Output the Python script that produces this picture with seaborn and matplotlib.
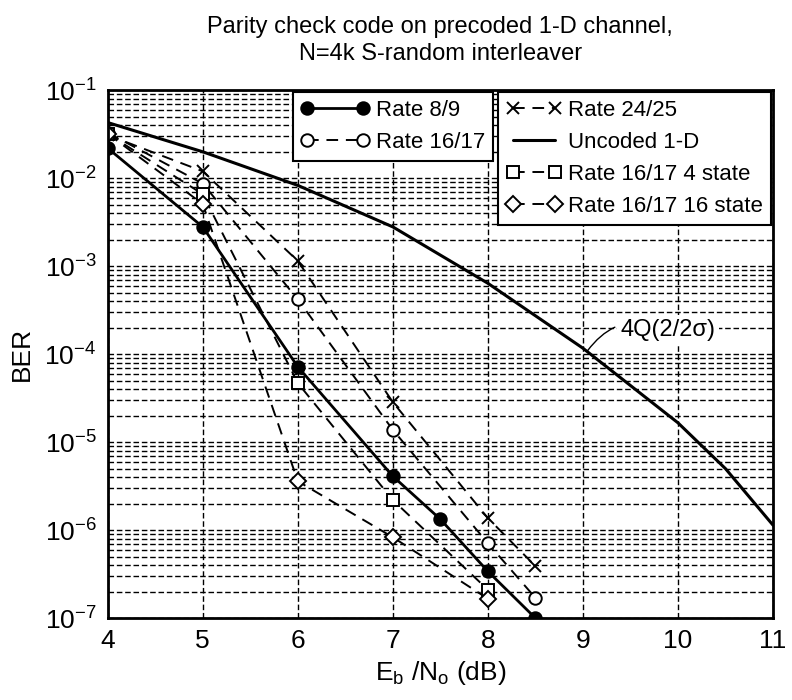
import matplotlib
matplotlib.use('Agg')
import matplotlib.pyplot as plt
from matplotlib.ticker import LogLocator, NullFormatter, FixedLocator
import seaborn as sns

# Eb/No (dB) and BER
ebno_r89 = [4, 5, 6, 7, 7.5, 8, 8.5]
ber_r89 = [2.2e-2, 2.8e-3, 7.2e-5, 4.1e-6, 1.33e-6, 3.4e-7, 1.0e-7]

ebno_r1617 = [4, 5, 6, 7, 8, 8.5]
ber_r1617 = [3.3e-2, 8.7e-3, 4.2e-4, 1.38e-5, 7.1e-7, 1.7e-7]

ebno_r2425 = [4, 5, 6, 7, 8, 8.5]
ber_r2425 = [3.1e-2, 1.2e-2, 1.15e-3, 2.85e-5, 1.37e-6, 3.9e-7]

ebno_uncoded = [4, 5, 6, 7, 8, 9, 10, 10.5, 11]
ber_uncoded = [4.3e-2, 2.0e-2, 8.3e-3, 2.8e-3, 6.4e-4, 1.17e-4, 1.66e-5, 5.0e-6, 1.14e-6]

ebno_4state = [4, 5, 6, 7, 8]
ber_4state = [3.2e-2, 6.6e-3, 4.7e-5, 2.2e-6, 2.1e-7]

ebno_16state = [4, 5, 6, 7, 8]
ber_16state = [3.2e-2, 5.1e-3, 3.6e-6, 8.3e-7, 1.66e-7]

x_ticks = [4, 5, 6, 7, 8, 9, 10, 11]
y_ticks = [1e-7, 1e-6, 1e-5, 1e-4, 1e-3, 1e-2, 1e-1]

sns.set_style('white')
plt.rcParams['font.family'] = ['Liberation Sans', 'DejaVu Sans']
plt.rcParams['text.color'] = 'black'
plt.rcParams['axes.labelcolor'] = 'black'

fig = plt.figure(figsize=(7.92, 7.0), dpi=100)
ax = fig.add_axes([0.136, 0.117, 0.840, 0.754])

dash = (0, (6, 4))
mk = dict(markersize=9, markeredgecolor='black', markeredgewidth=1.4)

sns.lineplot(x=ebno_r89, y=ber_r89, ax=ax, estimator=None, color='black', lw=2.0,
             marker='o', markerfacecolor='black', label='Rate 8/9', **mk)
sns.lineplot(x=ebno_r1617, y=ber_r1617, ax=ax, estimator=None, color='black', lw=1.4,
             linestyle=dash, marker='o', markerfacecolor='white', label='Rate 16/17', **mk)
sns.lineplot(x=ebno_r2425, y=ber_r2425, ax=ax, estimator=None, color='black', lw=1.4,
             linestyle=dash, marker='x', label='Rate 24/25', **mk)
sns.lineplot(x=ebno_uncoded, y=ber_uncoded, ax=ax, estimator=None, color='black', lw=2.2,
             label='Uncoded 1-D')
sns.lineplot(x=ebno_4state, y=ber_4state, ax=ax, estimator=None, color='black', lw=1.4,
             linestyle=dash, marker='s', markerfacecolor='white', label='Rate 16/17 4 state',
             markersize=8, markeredgecolor='black', markeredgewidth=1.4)
sns.lineplot(x=ebno_16state, y=ber_16state, ax=ax, estimator=None, color='black', lw=1.4,
             linestyle=dash, marker='D', markerfacecolor='white', label='Rate 16/17 16 state',
             markersize=8, markeredgecolor='black', markeredgewidth=1.4)

ax.set_yscale('log')
ax.set_xlim(4, 11)
ax.set_ylim(1e-7, 1e-1)
ax.xaxis.set_major_locator(FixedLocator(x_ticks))
ax.yaxis.set_major_locator(FixedLocator(y_ticks))
ax.yaxis.set_minor_locator(LogLocator(base=10, subs=range(2, 10), numticks=20))
ax.yaxis.set_minor_formatter(NullFormatter())

grid_kw = dict(color='black', linestyle=(0, (4, 2)), linewidth=1.0)
ax.grid(True, which='both', axis='y', **grid_kw)
ax.grid(True, which='major', axis='x', **grid_kw)
ax.set_axisbelow(True)

ax.tick_params(axis='both', which='both', length=0, labelsize=19, pad=8,
               colors='black', labelcolor='black')
for s in ax.spines.values():
    s.set_color('black')
    s.set_linewidth(2)

ax.set_xlabel(r'E$_{\mathdefault{b}}$ /N$_{\mathdefault{o}}$ (dB)', fontsize=19, labelpad=4)
ax.set_ylabel('BER', fontsize=19, labelpad=8)
ax.set_title('Parity check code on precoded 1-D channel,\nN=4k S-random interleaver',
             fontsize=17, pad=22, linespacing=1.25, color='black')

handles, labels = ax.get_legend_handles_labels()
if ax.legend_:
    ax.legend_.remove()
leg_kw = dict(frameon=True, fancybox=False, framealpha=1, edgecolor='black',
              fontsize=16, numpoints=2, handletextpad=0.3, labelcolor='black',
              borderaxespad=0, borderpad=0.35, labelspacing=0.5)
leg1 = ax.legend(handles[:2], labels[:2], loc='upper left', handlelength=3.1,
                 bbox_to_anchor=(0.278, 0.997), **leg_kw)
leg1.get_frame().set_linewidth(1.5)
ax.add_artist(leg1)
leg2 = ax.legend(handles[2:], labels[2:], loc='upper right', handlelength=2.5,
                 bbox_to_anchor=(0.997, 0.997), **leg_kw)
leg2.get_frame().set_linewidth(1.5)

ax.annotate('4Q(2/2σ)', xy=(9.05, 1.1e-4), xytext=(9.9, 1.9e-4),
            fontsize=17, ha='center', va='center', color='black',
            bbox=dict(boxstyle='square,pad=0.15', fc='white', ec='none'),
            arrowprops=dict(arrowstyle='-', color='black', lw=1.0,
                            connectionstyle='arc3,rad=0.4', shrinkA=2, shrinkB=0))

fig.savefig('out.png', dpi=100)
